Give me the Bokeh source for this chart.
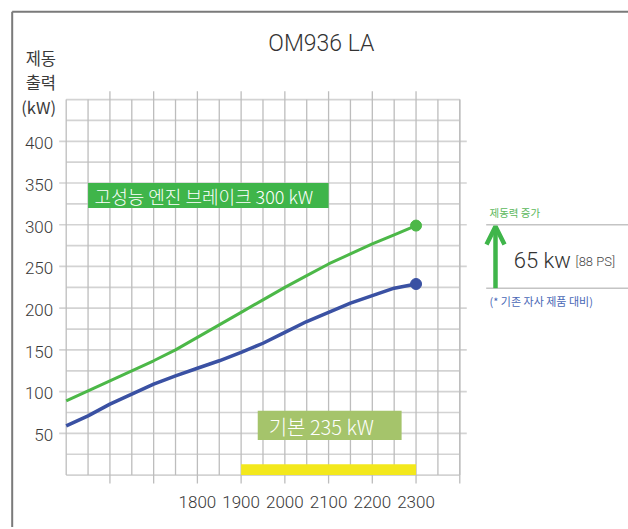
from bokeh.plotting import figure
from bokeh.models import Range1d, Arrow, OpenHead
from bokeh.core.properties import value
from bokeh.embed import file_html
from bokeh.resources import INLINE

# ---------------- data ----------------
chart_title = "OM936 LA"
y_title_lines = ["제동", "출력", "(kW)"]
rpm = [1500, 1550, 1600, 1650, 1700, 1750, 1800, 1850, 1900, 1950,
       2000, 2050, 2100, 2150, 2200, 2250, 2300]
high_kw = [89, 101, 113, 125, 137, 150, 165, 180, 195, 210,
           225, 239, 253, 265, 277, 288, 299]
base_kw = [59, 71, 85, 97, 109, 119, 128, 137, 147, 158,
           171, 184, 195, 206, 215, 224, 229]
x_ticks = [1800, 1900, 2000, 2100, 2200, 2300]
x_tick_labels = ["1800", "1900", "2000", "2100", "2200", "2300"]
y_ticks = [50, 100, 150, 200, 250, 300, 350, 400]
y_tick_labels = ["50", "100", "150", "200", "250", "300", "350", "400"]
high_label = "고성능 엔진 브레이크 300 kW"
base_label = "기본 235 kW"
gain_title = "제동력 증가"
gain_value = "65 kw"
gain_ps = "[88 PS]"
gain_note = "(* 기존 자사 제품 대비)"
rated_band = [1900, 2300]
gain_range = [224, 300]

# ---------------- styles ----------------
GREEN = "#4cb848"
BLUE = "#3a51a3"
BOX_GREEN = "#3fb54a"
BOX_OLIVE = "#a5c46b"
YELLOW = "#f3e81c"
GRID_H = "#d3d3d3"
GRID_V = "#bdbdbd"
TXT = "#3a3a3a"
KR = value("Noto Sans CJK KR")
KR_LIGHT = value("Noto Sans CJK KR Light, Noto Sans CJK KR DemiLight, Noto Sans CJK KR")
LAT = value("Roboto Light, Roboto")

X0, X1 = 1500, 2400
Y0, Y1 = 0, 450

p = figure(width=628, height=527,
           x_range=Range1d(1349.76, 2785.84), y_range=Range1d(-62.8, 568.72),
           x_axis_type=None, y_axis_type=None,
           output_backend="svg", toolbar_location=None, min_border=0)
p.grid.visible = False
p.outline_line_color = None
p.background_fill_color = "white"
p.border_fill_color = "white"

# outer frame lines (top and left)
p.segment(x0=[1376.5, 1376.5], y0=[555.2, 555.2], x1=[2800, 1376.5], y1=[555.2, -80],
          line_color="#7a7a7a", line_width=2)

# grid: horizontal
h_minor = [v for v in range(Y0, Y1 + 1, 25) if v not in y_ticks]
p.segment(x0=[X0] * len(h_minor), y0=h_minor, x1=[X1] * len(h_minor), y1=h_minor,
          line_color=GRID_H, line_width=1.7)
p.segment(x0=[1484] * len(y_ticks), y0=y_ticks, x1=[2416] * len(y_ticks), y1=y_ticks,
          line_color=GRID_H, line_width=1.7)
# grid: vertical
v_all = list(range(X0, X1 + 1, 50))
v_major = [v for v in v_all if v % 100 == 0 and X0 < v < X1]
v_minor = [v for v in v_all if v not in v_major]
p.segment(x0=v_minor, y0=[Y0] * len(v_minor), x1=v_minor, y1=[Y1] * len(v_minor),
          line_color=GRID_V, line_width=1.3)
p.segment(x0=v_major, y0=[-10] * len(v_major), x1=v_major, y1=[460] * len(v_major),
          line_color=GRID_V, line_width=1.3)
p.segment(x0=[X1], y0=[-10], x1=[X1], y1=[Y1], line_color=GRID_V, line_width=1.3)

# rated speed band
p.quad(left=[rated_band[0]], right=[rated_band[1]], bottom=[0], top=[13],
       fill_color=YELLOW, line_color=None)

# label boxes
p.quad(left=[1550], right=[2100], bottom=[320], top=[350], fill_color=BOX_GREEN, line_color=None)
p.quad(left=[1938], right=[2267], bottom=[42], top=[77], fill_color=BOX_OLIVE, line_color=None)
p.text(x=[1565], y=[334.7], text=[high_label], text_font=KR_LIGHT, text_font_size="18px",
       text_color="white", text_align="left", text_baseline="middle")
p.text(x=[1963], y=[58.0], text=[base_label], text_font=KR_LIGHT, text_font_size="20px",
       text_color="white", text_align="left", text_baseline="middle")

# curves
p.line(rpm, high_kw, line_color=GREEN, line_width=3)
p.line(rpm, base_kw, line_color=BLUE, line_width=3.5)
p.scatter([rpm[-1]], [high_kw[-1]], size=11, color=GREEN)
p.scatter([rpm[-1]], [base_kw[-1]], size=11, color=BLUE)

# tick labels
p.text(x=[1470.3] * len(y_ticks), y=[v - 2.2 for v in y_ticks], text=y_tick_labels,
       text_font=LAT, text_font_size="17px", text_color=TXT,
       text_align="right", text_baseline="middle")
p.text(x=x_ticks, y=[-31.9] * len(x_ticks), text=x_tick_labels,
       text_font=LAT, text_font_size="17px", text_color=TXT,
       text_align="center", text_baseline="middle")

# y title
p.text(x=[1476.7] * 3, y=[499.8, 471.3, 441.1], text=y_title_lines,
       text_font=KR, text_font_size="16.5px", text_color=TXT,
       text_align="right", text_baseline="middle")

# chart title
p.text(x=[2083.5], y=[516.8], text=[chart_title], text_font=LAT, text_font_size="23px",
       text_color="#333333", text_align="center", text_baseline="middle")

# gain annotation
p.segment(x0=[2460.4, 2460.4], y0=gain_range, x1=[2800, 2800], y1=gain_range,
          line_color="#c4c4c4", line_width=1.5)
p.add_layout(Arrow(end=OpenHead(size=18, line_color=BOX_GREEN, line_width=4.5),
                   x_start=2481.7, y_start=gain_range[0], x_end=2481.7, y_end=gain_range[1] - 2,
                   line_color=BOX_GREEN, line_width=4.5))
p.text(x=[2468], y=[314.1], text=[gain_title], text_font=KR, text_font_size="10.5px",
       text_color="#5cb85c", text_align="left", text_baseline="middle")
p.text(x=[2523.5], y=[257.5], text=[gain_value], text_font=LAT, text_font_size="22px",
       text_color="#333333", text_align="left", text_baseline="middle")
p.text(x=[2664.7], y=[255.6], text=[gain_ps], text_font=LAT, text_font_size="13px",
       text_color="#444444", text_align="left", text_baseline="middle")
p.text(x=[2468], y=[208.3], text=[gain_note], text_font=KR, text_font_size="11px",
       text_color="#4a68b6", text_align="left", text_baseline="middle")

open("out.html", "w").write(file_html(p, INLINE))
